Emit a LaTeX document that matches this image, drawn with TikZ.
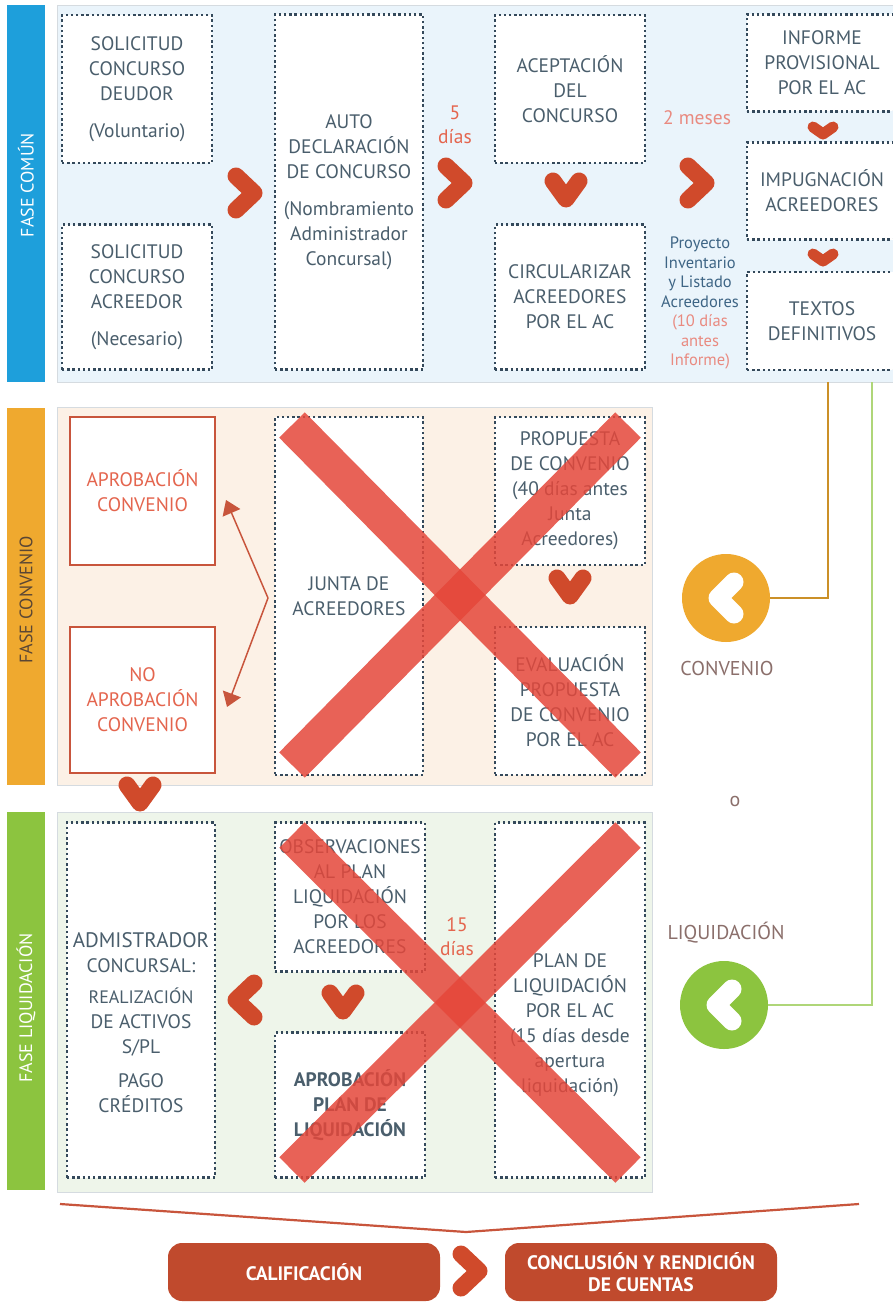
\documentclass[tikz,border=0pt]{standalone}
\usepackage{fontspec}
\setmainfont{PT Sans}
\usetikzlibrary{arrows.meta}

\definecolor{fcblue}{HTML}{1E9FDB}
\definecolor{fcorange}{HTML}{EFA92F}
\definecolor{fcgreen}{HTML}{8CC43F}
\definecolor{chevred}{HTML}{D04A2B}
\definecolor{boxtxt}{HTML}{4A5E6C}
\definecolor{redtxt}{HTML}{E4654E}
\definecolor{pinktxt}{HTML}{E98A80}
\definecolor{proytxt}{HTML}{3E6585}
\definecolor{xred}{HTML}{E5473A}
\definecolor{bgblue}{HTML}{EAF4FB}
\definecolor{bgpeach}{HTML}{FCF1E6}
\definecolor{bggreen}{HTML}{EEF5EA}
\definecolor{dotcol}{HTML}{34495B}
\definecolor{brbox}{HTML}{C8553C}
\definecolor{endred}{HTML}{C04A2D}
\definecolor{panelgray}{HTML}{D5DBE0}
\definecolor{lbltxt}{HTML}{8B6F6B}
\definecolor{convtxt}{HTML}{5A4634}

\tikzset{
  dotbox/.style={draw=dotcol, line width=2.4pt, dash pattern=on 2.4pt off 2.8pt, fill=white,
    align=center, text=boxtxt, inner sep=0pt, font=\fontsize{19.5}{25}\selectfont},
  boxtext/.style={align=center, text=boxtxt, inner sep=0pt, font=\fontsize{19.5}{25}\selectfont},
  solidbox/.style={draw=brbox, line width=2pt, fill=white, align=center, text=redtxt,
    inner sep=0pt, font=\fontsize{19.5}{25}\selectfont},
  bandtxt/.style={rotate=90, font=\fontsize{18}{20}\selectfont},
  redlbl/.style={align=center, text=redtxt, font=\fontsize{19.5}{24}\selectfont},
  lbltext/.style={text=lbltxt, font=\fontsize{20}{22}\selectfont},
  chevline/.style={draw=chevred, line width=17pt, line cap=round, line join=round},
  bigx/.style={draw=xred, line width=36pt, draw opacity=0.85},
  bracket/.style={draw=brbox, line width=1.5pt, -{Triangle[length=14pt,width=19pt]}},
  endbox/.style={fill=endred, rounded corners=14pt, text=white, align=center,
    minimum width=272pt, minimum height=58pt, font=\fontsize{19.5}{22}\selectfont\bfseries},
  chevron/.pic={\draw[chevline] (-9,-17) -- (9,0) -- (-9,17);},
  downchev/.pic={\draw[chevline] (-13,-12) -- (0,6) -- (13,-12);},
  flatchev/.pic={\draw[chevline, line width=11pt] (-10,-3) -- (0,4) -- (10,-3);},
  circchev/.pic={\draw[chevline, draw=white, line width=19pt] (8,-16) -- (-8,0) -- (8,16);},
}

\begin{document}
\begin{tikzpicture}[x=1pt, y=-1pt]
  \useasboundingbox (0,0) rectangle (892,1308);
  \fill[white] (0,0) rectangle (892,1308);

  % fase comun
  \fill[fcblue] (7,5) rectangle (45,382);
  \node[bandtxt, text=white] (bcomun) at (26,185) {FASE COMÚN};
  \filldraw[fill=bgblue, draw=panelgray] (57,5) rectangle (900,382);
  \node[dotbox, minimum width=150pt, minimum height=148pt] (sdeudor) at (137,89)
    {SOLICITUD\\CONCURSO\\DEUDOR\\[12pt](Voluntario)};
  \node[dotbox, minimum width=150pt, minimum height=145pt] (sacreed) at (137,297)
    {SOLICITUD\\CONCURSO\\ACREEDOR\\[12pt](Necesario)};
  \pic at (245,193) {chevron};
  \node[dotbox, minimum width=148pt, minimum height=355pt] (auto) at (349,192)
    {AUTO\\DECLARACIÓN\\DE CONCURSO\\[12pt](Nombramiento\\Administrador\\Concursal)};
  \node[redlbl] (cinco) at (455,125) {5\\días};
  \pic at (455,183) {chevron};
  \node[dotbox, minimum width=150pt, minimum height=148pt] (acept) at (570,89)
    {ACEPTACIÓN\\DEL\\CONCURSO};
  \pic at (566,193) {downchev};
  \node[dotbox, minimum width=150pt, minimum height=145pt] (circ) at (570,297)
    {CIRCULARIZAR\\ACREEDORES\\POR EL AC};
  \node[redlbl, text=pinktxt] (dosmeses) at (697,118) {2 meses};
  \pic at (697,183) {chevron};
  \node[align=center, text=proytxt, font=\fontsize{16.5}{19.5}\selectfont] (proy) at (700,303)
    {Proyecto\\Inventario\\y Listado\\Acreedores\\\textcolor{pinktxt}{(10 días}\\
     \textcolor{pinktxt}{antes}\\\textcolor{pinktxt}{Informe)}};
  \node[dotbox, minimum width=150pt, minimum height=97pt] (informe) at (822,63)
    {INFORME\\PROVISIONAL\\POR EL AC};
  \pic at (823,130) {flatchev};
  \node[dotbox, minimum width=150pt, minimum height=97pt] (impug) at (822,191)
    {IMPUGNACIÓN\\ACREEDORES};
  \pic at (823,257) {flatchev};
  \node[dotbox, minimum width=150pt, minimum height=98pt] (textos) at (822,321)
    {TEXTOS\\DEFINITIVOS};

  % convenio o liquidacion
  \coordinate (oconv) at (828,382);
  \coordinate (oliq) at (872,382);
  \node[circle, fill=fcorange, minimum size=88pt, inner sep=0pt] (cconv) at (726,598) {};
  \node[circle, fill=fcgreen, minimum size=88pt, inner sep=0pt] (cliq) at (724,1005) {};
  \draw[draw=fcorange!85!black, line width=1.6pt] (oconv) |- (cconv);
  \draw[draw=fcgreen!70!white, line width=1.6pt] (oliq) |- (cliq);
  \pic at (cconv) {circchev};
  \pic at (cliq) {circchev};
  \node[lbltext] (lconv) at (727,668) {CONVENIO};
  \node[lbltext] (oo) at (735,801) {o};
  \node[lbltext] (lliq) at (726,933) {LIQUIDACIÓN};

  % fase convenio
  \fill[fcorange] (7,408) rectangle (45,785);
  \node[bandtxt, text=convtxt] (bconv) at (26,600) {FASE CONVENIO};
  \filldraw[fill=bgpeach, draw=panelgray] (57,407) rectangle (652,785);
  \node[solidbox, minimum width=145pt, minimum height=148pt] (aprob) at (142.5,491)
    {APROBACIÓN\\CONVENIO};
  \node[solidbox, minimum width=145pt, minimum height=146pt] (noaprob) at (142.5,700)
    {NO\\APROBACIÓN\\CONVENIO};
  \node[dotbox, minimum width=148pt, minimum height=358pt] (junta) at (349,596)
    {JUNTA DE\\ACREEDORES};
  \coordinate (jv) at (268,598);
  \draw[bracket] (jv) -- ([xshift=10pt, yshift=-9pt]aprob.east);
  \draw[bracket] (jv) -- ([xshift=11pt, yshift=-7pt]noaprob.east);
  \node[dotbox, minimum width=150pt, minimum height=148pt] (prop) at (570,491)
    {PROPUESTA\\DE CONVENIO\\(40 días antes\\Junta\\Acreedores)};
  \pic at (570,590) {downchev};
  \node[dotbox, minimum width=150pt, minimum height=148pt] (eval) at (570,701)
    {EVALUACIÓN\\PROPUESTA\\DE CONVENIO\\POR EL AC};
  \draw[bigx] (292,425) -- (628,765);
  \draw[bigx] (292,765) -- (628,425);
  \pic at (140,797) {downchev};

  % fase liquidacion
  \fill[fcgreen] (7,812) rectangle (45,1190);
  \node[bandtxt, text=white] (bliq) at (26,1008) {FASE LIQUIDACIÓN};
  \filldraw[fill=bggreen, draw=panelgray] (57,812) rectangle (652,1192);
  \node[dotbox, minimum width=148pt, minimum height=355pt] (adminbox) at (141,1000) {};
  \node[boxtext] (admin) at (141,1023)
    {\fontsize{21}{23}\selectfont ADMISTRADOR\\CONCURSAL:\\[6pt]
     \fontsize{18}{25}\selectfont REALIZACIÓN\\DE ACTIVOS\\S/PL\\[9pt]PAGO\\CRÉDITOS};
  \pic[rotate=180] at (245,1000) {chevron};
  \node[dotbox, minimum width=150pt, minimum height=149pt] (obs) at (350,897)
    {OBSERVACIONES\\AL PLAN\\LIQUIDACIÓN\\POR LOS\\ACREEDORES};
  \pic at (343,1005) {downchev};
  \node[dotbox, minimum width=150pt, minimum height=145pt,
    font=\fontsize{19.5}{25}\selectfont\bfseries] (aprplan) at (350,1105)
    {APROBACIÓN\\PLAN DE\\LIQUIDACIÓN};
  \node[redlbl] (quince) at (457,937) {15\\días};
  \node[dotbox, minimum width=150pt, minimum height=355pt] (planbox) at (570,1000) {};
  \node[boxtext] (plan) at (570,1025)
    {PLAN DE\\LIQUIDACIÓN\\POR EL AC\\(15 días desde\\apertura\\liquidación)};
  \draw[bigx] (292,835) -- (628,1170);
  \draw[bigx] (292,1170) -- (628,835);

  % calificacion y conclusion
  \coordinate (brl) at (60,1204);
  \coordinate (brv) at (466,1232);
  \coordinate (brr) at (859,1204);
  \draw[draw=brbox, line width=2.2pt] (brl) -- (brv) -- (brr);
  \node[endbox] (calif) at (304,1272) {CALIFICACIÓN};
  \pic at (470,1271) {chevron};
  \node[endbox] (concl) at (641,1272) {CONCLUSIÓN Y RENDICIÓN\\DE CUENTAS};
\end{tikzpicture}
\end{document}
